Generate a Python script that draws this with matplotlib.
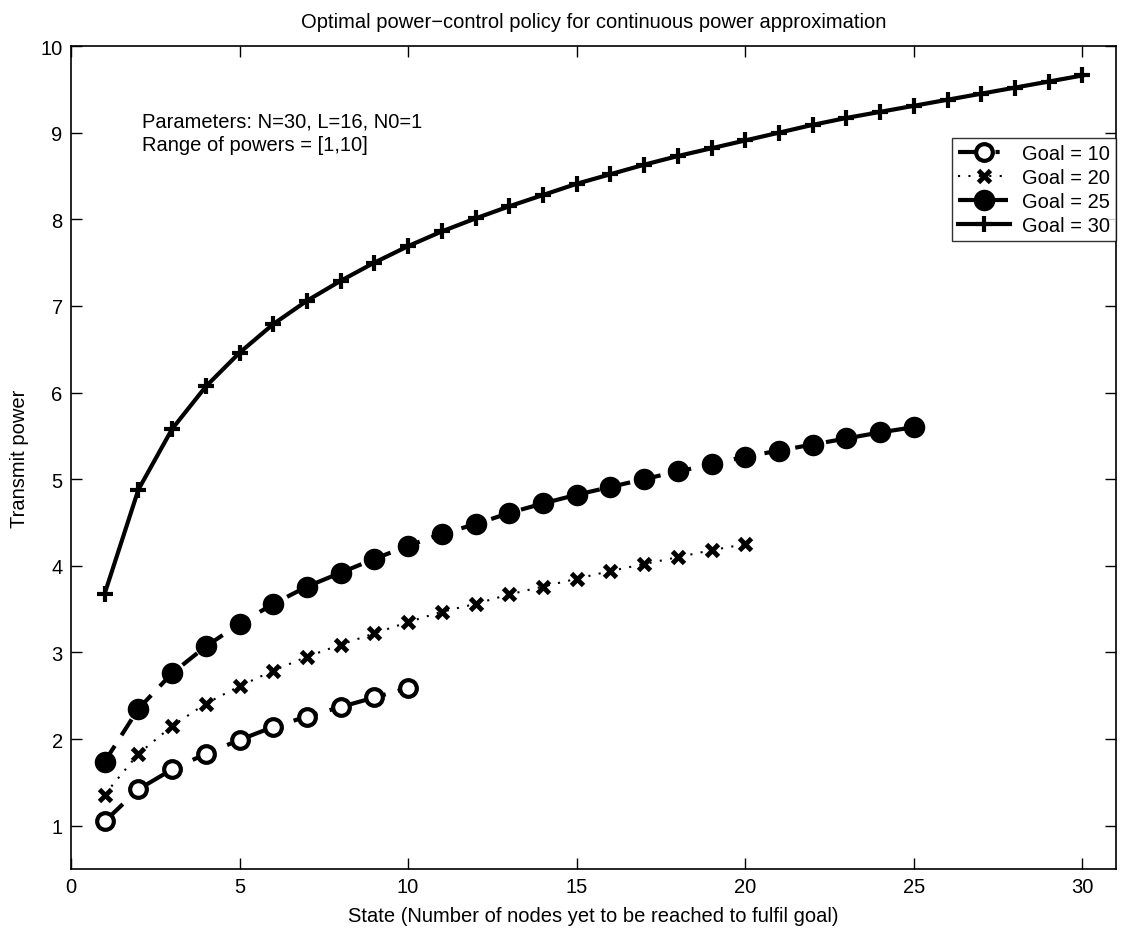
import matplotlib
matplotlib.use("Agg")
import matplotlib.pyplot as plt

plt.rcParams['font.family'] = ['Liberation Sans', 'DejaVu Sans']

# Transmit power per state for each goal
states_10 = list(range(1, 11))
power_10 = [1.05, 1.42, 1.65, 1.83, 1.99, 2.14, 2.26, 2.37, 2.48, 2.59]

states_20 = list(range(1, 21))
power_20 = [1.36, 1.83, 2.15, 2.41, 2.61, 2.79, 2.95, 3.09, 3.22, 3.35,
            3.47, 3.56, 3.67, 3.76, 3.85, 3.94, 4.02, 4.10, 4.18, 4.25]

states_25 = list(range(1, 26))
power_25 = [1.74, 2.35, 2.76, 3.07, 3.33, 3.56, 3.76, 3.92, 4.08, 4.23,
            4.37, 4.48, 4.61, 4.72, 4.82, 4.91, 5.00, 5.09, 5.17, 5.26,
            5.33, 5.40, 5.47, 5.54, 5.60]

states_30 = list(range(1, 31))
power_30 = [3.68, 4.88, 5.58, 6.07, 6.46, 6.79, 7.06, 7.29, 7.50, 7.69,
            7.86, 8.01, 8.15, 8.28, 8.41, 8.52, 8.63, 8.73, 8.82, 8.91,
            9.00, 9.09, 9.17, 9.24, 9.31, 9.38, 9.45, 9.52, 9.59, 9.66]

labels = ['Goal = 10', 'Goal = 20', 'Goal = 25', 'Goal = 30']

fig = plt.figure(figsize=(11.34, 9.37), dpi=100)
ax = fig.add_axes([0.0626, 0.0715, 0.9216, 0.8783])

fs = 14.5

ax.plot(states_10, power_10, color='black', linewidth=3,
        linestyle=(0, (6, 3, 1, 3)), marker='o', markersize=12,
        markerfacecolor='white', markeredgecolor='black',
        markeredgewidth=3, label=labels[0])
ax.plot(states_20, power_20, color='black', linewidth=1.5,
        linestyle=(0, (1, 4)), marker='x', markersize=8,
        markeredgewidth=3.5, label=labels[1])
ax.plot(states_25, power_25, color='black', linewidth=3,
        linestyle=(0, (4.5, 3)), marker='o', markersize=14.5,
        markerfacecolor='black', markeredgecolor='black',
        label=labels[2])
ax.plot(states_30, power_30, color='black', linewidth=3,
        linestyle='-', marker='+', markersize=11,
        markeredgewidth=3, label=labels[3])

ax.set_xlim(0, 31)
ax.set_ylim(0.5, 10)
ax.set_xticks([0, 5, 10, 15, 20, 25, 30])
ax.set_yticks(range(1, 11))
ax.tick_params(direction='in', length=8, width=1, top=True, right=True,
               labelsize=fs, pad=6)
for sp in ax.spines.values():
    sp.set_linewidth(1.2)

ax.set_title('Optimal power\u2212control policy for continuous power approximation',
             fontsize=fs, pad=14)
ax.set_xlabel('State (Number of nodes yet to be reached to fulfil goal)',
              fontsize=fs, labelpad=7)
ax.set_ylabel('Transmit power', fontsize=fs, labelpad=8)

ax.text(2.1, 9.0, 'Parameters: N=30, L=16, N0=1\nRange of powers = [1,10]',
        fontsize=fs, ha='left', va='center', linespacing=1.35)

leg = ax.legend(loc='upper right', bbox_to_anchor=(1.0, 0.888),
                fontsize=fs, frameon=True, fancybox=False, edgecolor='black',
                handlelength=2.6, borderpad=0.3, labelspacing=0.25,
                handletextpad=0.6, borderaxespad=0.0)
leg.get_frame().set_linewidth(1.0)

fig.savefig('out.png', dpi=100)
